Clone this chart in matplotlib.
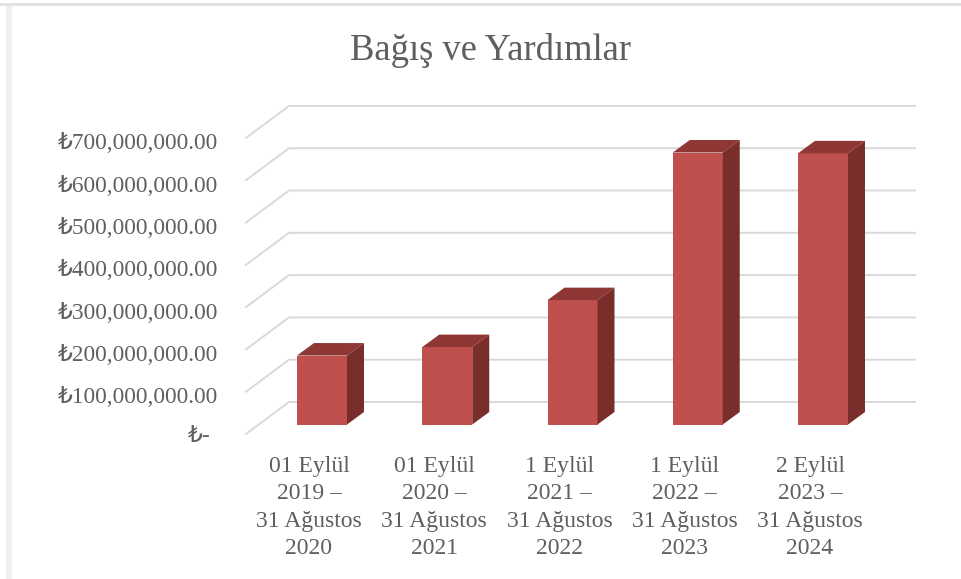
import matplotlib
matplotlib.use("Agg")
import matplotlib.pyplot as plt
from matplotlib.patches import Polygon, Rectangle

FONT = ["Liberation Serif", "DejaVu Sans"]
TEXT_COLOR = "#5F5F5F"
GRID_COLOR = "#D9D9D9"

periods = [
    "01 Eylül\n2019 –\n31 Ağustos\n2020",
    "01 Eylül\n2020 –\n31 Ağustos\n2021",
    "1 Eylül\n2021 –\n31 Ağustos\n2022",
    "1 Eylül\n2022 –\n31 Ağustos\n2023",
    "2 Eylül\n2023 –\n31 Ağustos\n2024",
]
donations = [163e6, 183e6, 294e6, 643e6, 641e6]
tick_values = [0, 100e6, 200e6, 300e6, 400e6, 500e6, 600e6, 700e6]
tick_labels = ["₺-", "₺100,000,000.00", "₺200,000,000.00", "₺300,000,000.00",
               "₺400,000,000.00", "₺500,000,000.00", "₺600,000,000.00", "₺700,000,000.00"]

# scale of the fake 3d box, pixels per category and per value
PX_PER_CAT = 125.25
PX_PER_VAL = 42.3 / 100e6
X0_PX = 322
Y0_PX = 424.5
W, H = 961, 579


def dx(px):
    return px / PX_PER_CAT


def dy(px):
    return px / PX_PER_VAL


fig = plt.figure(figsize=(W / 100, H / 100), dpi=100)
ax = fig.add_axes([0, 0, 1, 1])
ax.set_xlim(dx(0 - X0_PX), dx(W - X0_PX))
ax.set_ylim(dy(Y0_PX - H), dy(Y0_PX))
ax.axis("off")

# window edges from the screenshot
fig.add_artist(Rectangle((0, 1 - 6 / H), 1, 3 / H, transform=fig.transFigure, color="#E2E2E2", lw=0))
fig.add_artist(Rectangle((6 / W, 0), 6 / W, 1 - 6 / H, transform=fig.transFigure, color="#EFEFEF", lw=0))

ax.text(dx(491 - X0_PX), dy(Y0_PX - 50), "Bağış ve Yardımlar", family=FONT, fontsize=26.3,
        color=TEXT_COLOR, ha="center", va="center")

# walls
wall_x0 = dx(289 - X0_PX)
wall_x1 = dx(915 - X0_PX)
front_x = dx(246 - X0_PX)
wall_dy = dy(Y0_PX - 402)
front_dy = dy(Y0_PX - 434)
for v, lab in zip(tick_values, tick_labels):
    ax.plot([front_x, wall_x0, wall_x1], [v + front_dy, v + wall_dy, v + wall_dy],
            color=GRID_COLOR, lw=1.4, zorder=1, solid_joinstyle="miter")
    right = dx(218 - X0_PX) if v > 0 else dx(211 - X0_PX)
    nudge = dy(6) if v > 0 else dy(3)
    ax.text(right, v + front_dy - nudge, lab, family=FONT, fontsize=16.8, color=TEXT_COLOR,
            ha="right", va="center")

# bars: front face plus top and side polygons
half = dx(25)
depth_x = dx(17)
depth_y = dy(12.5)
ax.bar(range(len(donations)), donations, width=2 * half, color="#C0504D", zorder=3)
for i, v in enumerate(donations):
    left, right = i - half, i + half
    ax.add_patch(Polygon([(left, v), (right, v), (right + depth_x, v + depth_y), (left + depth_x, v + depth_y)],
                         color="#8F3735", lw=0, zorder=3))
    ax.add_patch(Polygon([(right, 0), (right + depth_x, depth_y), (right + depth_x, v + depth_y), (right, v)],
                         color="#7A2E2C", lw=0, zorder=3))
    ax.text(i - dx(13), dy(Y0_PX - 507.5), periods[i], family=FONT, fontsize=17, color=TEXT_COLOR,
            ha="center", va="center", linespacing=1.41)

fig.savefig("out.png", dpi=100)
